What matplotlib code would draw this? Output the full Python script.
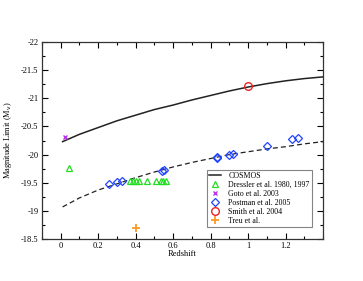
import matplotlib
matplotlib.use("Agg")
import matplotlib.pyplot as plt
from matplotlib.ticker import MultipleLocator

plt.rcParams['font.family'] = ['Liberation Serif', 'DejaVu Serif']

# COSMOS limit curves
curve_z = [0.01, 0.1, 0.2, 0.3, 0.4, 0.5, 0.6, 0.7, 0.8, 0.9, 1.0, 1.1, 1.2, 1.3, 1.4]
solid_m = [-20.23, -20.36, -20.48, -20.60, -20.70, -20.80, -20.88, -20.97, -21.05, -21.13, -21.20, -21.26, -21.31, -21.35, -21.38]
dashed_m = [-19.07, -19.23, -19.37, -19.48, -19.59, -19.69, -19.78, -19.86, -19.93, -20.00, -20.05, -20.10, -20.14, -20.19, -20.23]

# Dressler et al. 1980, 1997
dressler_z = [0.045, 0.37, 0.385, 0.40, 0.42, 0.46, 0.51, 0.535, 0.545, 0.56]
dressler_m = [-19.77, -19.53, -19.53, -19.53, -19.53, -19.53, -19.53, -19.53, -19.53, -19.53]

# Goto et al. 2003
goto_z = [0.023]
goto_m = [-20.31]

# Postman et al. 2005
postman_z = [0.258, 0.30, 0.327, 0.543, 0.552, 0.834, 0.836, 0.90, 0.92, 1.10, 1.233, 1.265]
postman_m = [-19.48, -19.51, -19.53, -19.70, -19.72, -19.94, -19.95, -19.99, -20.01, -20.16, -20.27, -20.29]

# Smith et al. 2004
smith_z = [1.0]
smith_m = [-21.21]

# Treu et al.
treu_z = [0.40]
treu_m = [-18.70]

fig = plt.figure(figsize=(3.63, 2.81), dpi=100)
ax = fig.add_axes([42/363, 1 - 239/281, 281/363, 197/281])

ax.plot(curve_z, solid_m, color='#222222', lw=1.1, label='COSMOS')
ax.plot(curve_z, dashed_m, color='#222222', lw=0.9, ls=(0, (4, 2.5)))

ax.plot(dressler_z, dressler_m, ls='none', marker='^', ms=4.5, mfc='none', mec='#22dd22', mew=0.9,
        label='Dressler et al. 1980, 1997')
ax.plot(goto_z, goto_m, ls='none', marker='x', ms=3.5, color='#bb33ee', mew=1.0, label='Goto et al. 2003')
ax.plot(postman_z, postman_m, ls='none', marker='D', ms=3.8, mfc='none', mec='#2244ff', mew=0.9,
        label='Postman et al. 2005')
ax.plot(smith_z, smith_m, ls='none', marker='o', ms=5.5, mfc='none', mec='#ee2222', mew=1.0,
        label='Smith et al. 2004')
ax.plot(treu_z, treu_m, ls='none', marker='+', ms=5.5, color='#ff9922', mew=1.3, label='Treu et al.')

ax.set_xlim(-0.1, 1.4)
ax.set_ylim(-18.5, -22)
ax.xaxis.set_minor_locator(MultipleLocator(0.1))
ax.yaxis.set_minor_locator(MultipleLocator(0.25))
ax.set_xticks([0, 0.2, 0.4, 0.6, 0.8, 1.0, 1.2])
ax.set_xticklabels(['0', '0.2', '0.4', '0.6', '0.8', '1', '1.2'])
ax.set_yticks([-22, -21.5, -21, -20.5, -20, -19.5, -19, -18.5])
ax.set_yticklabels(['-22', '-21.5', '-21', '-20.5', '-20', '-19.5', '-19', '-18.5'])
ax.tick_params(which='both', direction='in', top=True, right=True, labelsize=6, width=0.8, pad=2.5)
ax.tick_params(which='major', length=4)
ax.tick_params(which='minor', length=2)
for s in ax.spines.values():
    s.set_linewidth(0.9)
    s.set_color('#333333')

ax.set_xlabel('Redshift', fontsize=6, labelpad=0)
ax.set_ylabel('Magnitude Limit (M$_{\\rm v}$)', fontsize=6, labelpad=5)

leg = ax.legend(loc='lower right', fontsize=5.7, fancybox=False, edgecolor='#666666',
                handlelength=1.5, handletextpad=0.9, labelspacing=0.12, borderpad=0.3,
                bbox_to_anchor=(0.975, 0.04))
leg.get_frame().set_linewidth(0.8)

plt.savefig('out.png', dpi=100)
